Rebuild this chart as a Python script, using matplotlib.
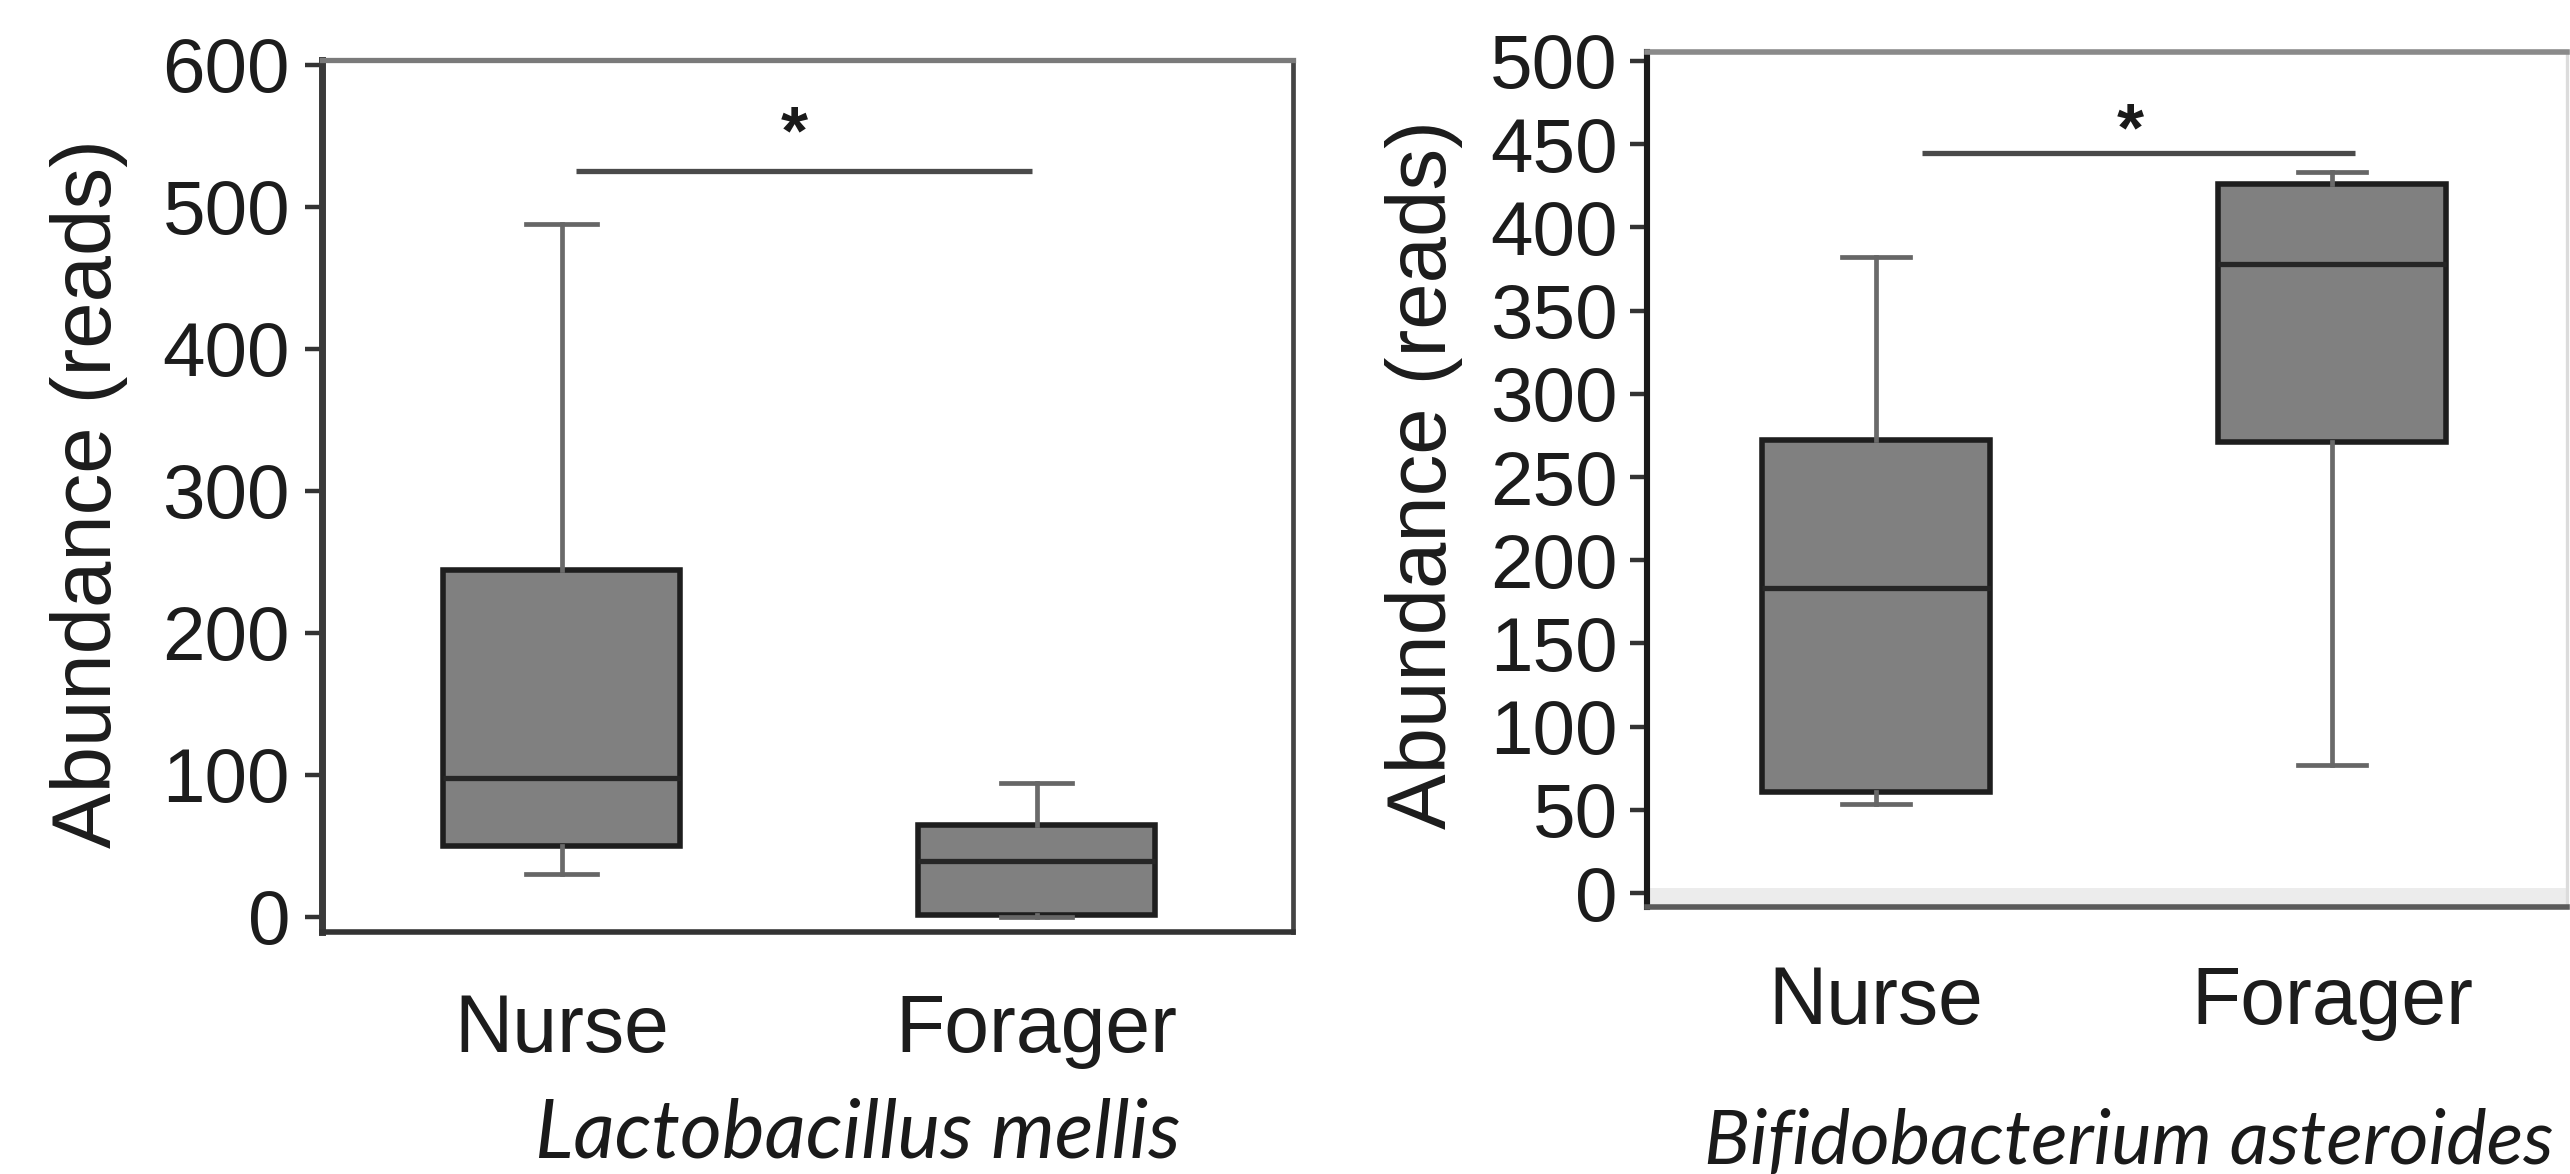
import matplotlib
matplotlib.use('Agg')
import matplotlib.pyplot as plt

# ---------------- data ----------------
groups = ['Nurse', 'Forager']

# Lactobacillus mellis (left panel)
lm_whislo = [30.5, 0]
lm_q1 = [50, 1.6]
lm_med = [98, 39.5]
lm_q3 = [244, 65]
lm_whishi = [488, 94]
lm_yticks = [0, 100, 200, 300, 400, 500, 600]
lm_sig = 525          # significance bar height
lm_sig_span = [1.03, 1.99]

# Bifidobacterium asteroides (right panel)
ba_whislo = [53.6, 77]
ba_q1 = [61, 271]
ba_med = [183, 378]
ba_q3 = [272, 426]
ba_whishi = [382, 433]
ba_yticks = [0, 50, 100, 150, 200, 250, 300, 350, 400, 450, 500]
ba_sig = 445
ba_sig_span = [1.10, 2.05]

species = ['Lactobacillus mellis', 'Bifidobacterium asteroides']
ylabel_text = 'Abundance (reads)'
sig_mark = '*'

# ---------------- figure ----------------
W, H = 2570, 1174
fig = plt.figure(figsize=(W / 100, H / 100), dpi=100)
fig.patch.set_facecolor('white')

FONT = ['Liberation Sans', 'DejaVu Sans']
TXT = '#1c1c1c'


def px_axes(x0, x1, ytop, ybot):
    return fig.add_axes([x0 / W, 1 - ybot / H, (x1 - x0) / W, (ybot - ytop) / H])


def make_stats(whislo, q1, med, q3, whishi):
    return [dict(whislo=a, q1=b, med=c, q3=d, whishi=e, fliers=[], label=g)
            for a, b, c, d, e, g in zip(whislo, q1, med, q3, whishi, groups)]


def draw_panel(ax, stats, yticks, ylim, xlim, sig_y, sig_span, star_x, star_y,
               spine_styles, ylabel_xy, tick_pad, xlabel_pad):
    ax.bxp(stats, positions=[1, 2], widths=0.5, capwidths=0.15,
           patch_artist=True, showfliers=False,
           boxprops=dict(facecolor='#808080', edgecolor='#1e1e1e', linewidth=4.0),
           medianprops=dict(color='#262626', linewidth=3.8),
           whiskerprops=dict(color='#6a6a6a', linewidth=3.4),
           capprops=dict(color='#666666', linewidth=3.4))
    ax.set_xlim(*xlim)
    ax.set_ylim(*ylim)
    ax.set_yticks(yticks)
    ax.set_yticklabels([str(v) for v in yticks])
    ax.set_xticks([1, 2])
    ax.set_xticklabels(groups)
    ax.tick_params(axis='y', length=12, width=3.2, color='#333333', pad=tick_pad,
                   labelsize=55, labelcolor=TXT)
    ax.tick_params(axis='x', length=0, pad=xlabel_pad, labelsize=58, labelcolor=TXT)
    for lab in ax.get_xticklabels() + ax.get_yticklabels():
        lab.set_fontfamily(FONT)
    for side, (col, lw) in spine_styles.items():
        ax.spines[side].set_color(col)
        ax.spines[side].set_linewidth(lw)
    # significance bar and star
    ax.plot(sig_span, [sig_y, sig_y], color='#4a4a4a', linewidth=3.8,
            solid_capstyle='butt')
    ax.text(star_x, star_y, sig_mark, ha='center', va='baseline', fontsize=50,
            fontweight='bold', family=FONT, color='#1a1a1a')
    ax.set_ylabel(ylabel_text, fontsize=60, family=FONT, color=TXT, va='center')
    ax.yaxis.set_label_coords(*ylabel_xy)


# Left panel
ax1 = px_axes(322, 1293, 60, 932)
draw_panel(ax1, make_stats(lm_whislo, lm_q1, lm_med, lm_q3, lm_whishi),
           lm_yticks, (-10.6, 603.5), (0.495, 2.54), lm_sig, lm_sig_span,
           1.49, 538,
           {'left': ('#3a3a3a', 5.0), 'bottom': ('#333333', 4.0),
            'top': ('#7a7a7a', 3.8), 'right': ('#444444', 3.4)},
           ((89 - 322) / 971, (932 - 494) / 872), 11, 44)

# Right panel
ax2 = px_axes(1647, 2567, 52, 907)
ax2.axhspan(-8.4, 3, color='#ececec', zorder=0, linewidth=0)
draw_panel(ax2, make_stats(ba_whislo, ba_q1, ba_med, ba_q3, ba_whishi),
           ba_yticks, (-8.4, 505.4), (0.498, 2.515), ba_sig, ba_sig_span,
           1.557, 446,
           {'left': ('#1a1a1a', 4.4), 'bottom': ('#5a5a5a', 4.0),
            'top': ('#8a8a8a', 4.0), 'right': ('#dcdcdc', 2.4)},
           ((1424 - 1647) / 920, (907 - 475) / 855), 9, 42)

# Species names (italic, below each panel)
sp_specs = [(535, 1158, 646), (1704, 1164, 850)]
texts = []
for name, (x0, base, target_w) in zip(species, sp_specs):
    t = fig.text(x0 / W, 1 - base / H, name, ha='left', va='baseline',
                 fontsize=54, fontstyle='italic', family=['Lato', 'DejaVu Sans'],
                 color='#1a1a1a')
    texts.append((t, target_w))
fig.canvas.draw()
renderer = fig.canvas.get_renderer()
for t, target_w in texts:
    w = t.get_window_extent(renderer).width
    t.set_fontsize(54 * target_w / w)

fig.savefig('out.png', dpi=100, facecolor='white')
